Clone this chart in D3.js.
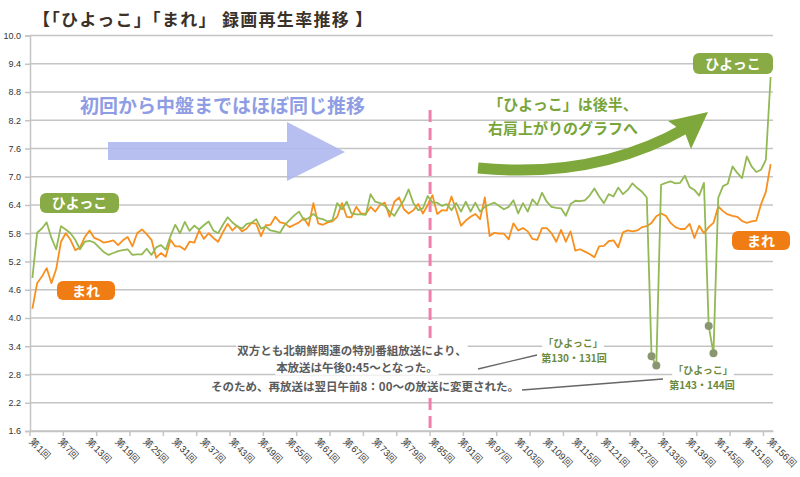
<!DOCTYPE html>
<html><head><meta charset="utf-8">
<script src="https://cdn.jsdelivr.net/npm/d3@7"></script>
<style>
html,body{margin:0;padding:0;background:#fff;}
svg{display:block;font-family:"Noto Sans CJK JP","Noto Sans",sans-serif;}
</style></head>
<body><svg id="chart" width="800" height="477"></svg>
<script>
// ---- data ----
const episodes = d3.range(1, 157);
const labelEpisodes = [1,7,13,19,25,31,37,43,49,55,61,67,73,79,85,91,97,103,109,115,121,127,133,139,145,151,156];
const tickEpisodes = [1,8,15,22,29,36,43,50,57,64,71,78,85,92,99,106,113,120,127,134,141,148,155];
const yTicks = [1.6,2.2,2.8,3.4,4.0,4.6,5.2,5.8,6.4,7.0,7.6,8.2,8.8,9.4,10.0];
const hiyokko = [
4.85,5.81,5.90,6.03,5.70,5.46,5.95,5.88,5.80,5.66,
5.46,5.62,5.64,5.60,5.50,5.40,5.34,5.38,5.42,5.44,
5.46,5.34,5.35,5.35,5.47,5.34,5.50,5.55,5.45,5.74,
5.98,5.80,6.04,5.85,5.96,5.88,5.97,6.05,5.86,5.80,
5.98,6.14,6.03,5.95,5.90,6.00,6.02,6.10,5.90,5.94,
5.86,5.84,5.81,5.98,6.08,6.18,6.26,6.08,6.12,6.21,
6.12,6.10,6.05,6.08,6.44,6.31,6.47,6.22,6.20,6.20,
6.19,6.63,6.47,6.44,6.38,6.26,6.17,6.34,6.50,6.73,
6.44,6.29,6.33,6.59,6.45,6.45,6.38,6.42,6.29,6.44,
6.26,6.47,6.26,6.45,6.26,6.36,6.41,6.45,6.38,6.31,
6.36,6.50,6.22,6.44,6.26,6.52,6.40,6.66,6.47,6.36,
6.34,6.33,6.17,6.42,6.49,6.48,6.50,6.60,6.75,6.58,
6.44,6.63,6.58,6.77,6.63,6.72,6.86,6.76,6.68,6.56,
3.19,2.99,6.83,6.87,6.90,6.86,6.87,7.02,6.78,6.72,
6.60,6.87,3.83,3.25,6.55,6.80,6.85,7.22,7.08,6.97,
7.43,7.22,7.10,7.15,7.36,9.12];
const mare = [
4.20,4.74,4.88,5.06,4.74,5.04,5.62,5.80,5.66,5.44,
5.50,5.72,5.86,5.70,5.66,5.60,5.62,5.65,5.55,5.65,
5.72,5.52,5.80,5.88,5.78,5.66,5.28,5.38,5.30,5.66,
5.52,5.52,5.45,5.62,5.60,5.86,5.68,5.80,5.70,5.62,
5.82,6.00,5.86,5.96,5.84,5.90,6.02,6.00,5.74,5.97,
5.98,6.15,6.03,6.01,5.93,5.98,6.03,6.12,5.96,6.44,
6.01,5.98,6.03,6.05,6.15,6.44,6.15,6.14,6.36,6.22,
6.21,6.36,6.26,6.40,6.45,6.15,6.47,6.56,6.31,6.22,
6.29,6.42,6.22,6.40,6.61,6.21,6.29,6.28,6.58,6.29,
5.96,6.07,6.15,6.21,6.10,6.56,5.74,5.81,5.79,5.79,
5.67,6.01,5.86,5.91,5.84,5.68,5.66,5.91,5.91,5.80,
5.62,5.87,5.62,5.84,5.43,5.46,5.41,5.36,5.29,5.52,
5.53,5.63,5.65,5.50,5.82,5.86,5.84,5.86,5.93,5.95,
6.02,6.16,6.22,6.17,6.02,5.93,5.89,5.89,6.00,5.70,
5.96,5.80,5.93,6.02,6.37,6.27,6.20,6.17,6.15,6.06,
6.02,6.05,6.07,6.42,6.68,7.27];
const dropEpisodes = [131,132,143,144];

// ---- layout ----
const svg = d3.select("#chart");
const L = 30, R = 773, T = 35.5, B = 431;
const x = d3.scaleBand().domain(episodes).range([L, R]).padding(0);
const cx = d => x(d) + x.bandwidth() / 2;
const y = d3.scaleLinear().domain([1.6, 10]).range([B, T]);
const GREEN = "#93b955", ORANGE = "#f7901e";

// title
svg.append("text").attr("x", 33).attr("y", 26)
  .attr("font-size", 17).attr("font-weight", "bold").attr("fill", "#3a3128")
  .attr("letter-spacing", 1.3)
  .text("【「ひよっこ」「まれ」 録画再生率推移 】");

// gridlines
svg.append("g").selectAll("line").data(yTicks).join("line")
  .attr("x1", L).attr("x2", R).attr("y1", d => y(d)).attr("y2", d => y(d))
  .attr("stroke", "#c4c4c4").attr("stroke-width", 1.5);

// y axis
const yAxis = svg.append("g").attr("transform", `translate(${L},0)`)
  .call(d3.axisLeft(y).tickValues(yTicks).tickSize(5).tickPadding(4).tickFormat(d3.format(".1f")));
yAxis.select(".domain").attr("stroke", "#c4c4c4").attr("stroke-width", 1.5);
yAxis.selectAll(".tick line").attr("stroke", "#c4c4c4").attr("stroke-width", 1.5);
yAxis.selectAll("text").attr("font-family", "'Liberation Sans',Arial,sans-serif")
  .attr("font-size", 9).attr("fill", "#333");

// x axis labels
const xAxis = svg.append("g").attr("transform", `translate(0,${B})`)
  .call(d3.axisBottom(x).tickValues(labelEpisodes).tickSize(0).tickFormat(d => `第${d}回`));
xAxis.select(".domain").attr("stroke", "#c4c4c4").attr("stroke-width", 1.5);
xAxis.selectAll("text").attr("font-size", 9.5).attr("fill", "#333")
  .attr("text-anchor", "start").attr("x", 0).attr("y", 0).attr("dy", "0.35em")
  .attr("transform", "translate(-1,9) rotate(45)");
// x tick marks (every 7 categories, on band boundaries)
svg.append("g").selectAll("line").data(tickEpisodes).join("line")
  .attr("x1", d => x(d)).attr("x2", d => x(d)).attr("y1", B).attr("y2", B + 5)
  .attr("stroke", "#c4c4c4").attr("stroke-width", 1.5);

// blue arrow + text
svg.append("path")
  .attr("d", "M108,142 L287,142 L287,122 L345,152 L287,181 L287,160 L108,160 Z")
  .attr("fill", "#aeb8ee").attr("opacity", 0.9);
svg.append("text").attr("x", 80).attr("y", 113).attr("font-size", 19).attr("font-weight", "bold")
  .attr("fill", "#8f9de4").text("初回から中盤まではほぼ同じ推移");

// green curved arrow + text
svg.append("path").attr("d", "M478,168 C560,176 630,160 686,128")
  .attr("fill", "none").attr("stroke", "#7fa83c").attr("stroke-width", 11);
svg.append("path").attr("d", "M668,121 L708,112 L691,149 L685,133 Z").attr("fill", "#7fa83c");
svg.append("text").attr("x", 563).attr("y", 110).attr("text-anchor", "middle")
  .attr("font-size", 15).attr("font-weight", "bold").attr("fill", "#78a53a").text("「ひよっこ」は後半、");
svg.append("text").attr("x", 563).attr("y", 134).attr("text-anchor", "middle")
  .attr("font-size", 15).attr("font-weight", "bold").attr("fill", "#78a53a").text("右肩上がりのグラフへ");

// pink dashed line
svg.append("line").attr("x1", x(85)).attr("x2", x(85)).attr("y1", 110).attr("y2", B)
  .attr("stroke", "#f07fab").attr("stroke-width", 3).attr("stroke-dasharray", "12,6");

// data lines
const line = d3.line().x((d, i) => cx(episodes[i])).y(d => y(d));
svg.append("path").datum(mare).attr("d", line).attr("fill", "none")
  .attr("stroke", ORANGE).attr("stroke-width", 1.8).attr("stroke-linejoin", "round");
svg.append("path").datum(hiyokko).attr("d", line).attr("fill", "none")
  .attr("stroke", GREEN).attr("stroke-width", 1.8).attr("stroke-linejoin", "round");
svg.append("g").selectAll("circle").data(dropEpisodes).join("circle")
  .attr("cx", d => cx(d)).attr("cy", d => y(hiyokko[d - 1])).attr("r", 4)
  .attr("fill", "#8a9672");

// annotation
const ann = svg.append("g");
function noteText(tx, ty, str, opts) {
  const t = ann.append("text").attr("x", tx).attr("y", ty)
    .attr("font-size", opts.size).attr("font-weight", "bold")
    .attr("fill", opts.color).attr("text-anchor", opts.anchor || "start").text(str);
  const bb = t.node().getBBox();
  ann.insert("rect", () => t.node()).attr("x", bb.x - 1).attr("y", ty - opts.size * 0.95)
    .attr("width", bb.width + 2).attr("height", opts.size * 1.2).attr("fill", "#fff");
  return t;
}
ann.append("line").attr("x1", 478).attr("y1", 369).attr("x2", 537).attr("y2", 355).attr("stroke", "#666").attr("stroke-width", 1.3);
ann.append("line").attr("x1", 522).attr("y1", 390).attr("x2", 663).attr("y2", 379).attr("stroke", "#666").attr("stroke-width", 1.3);
noteText(352, 355, "双方とも北朝鮮関連の特別番組放送により、", {size: 11.5, color: "#5b5b5b", anchor: "middle"});
noteText(357, 372, "本放送は午後0:45～となった。", {size: 11.5, color: "#5b5b5b", anchor: "middle"});
noteText(365, 391, "そのため、再放送は翌日午前8：00～の放送に変更された。", {size: 11.5, color: "#5b5b5b", anchor: "middle"});
noteText(573, 347, "「ひよっこ」", {size: 10, color: "#6b8a3c", anchor: "middle"});
noteText(574, 362, "第130・131回", {size: 10, color: "#6b8a3c", anchor: "middle"});
noteText(703, 374, "「ひよっこ」", {size: 10, color: "#6b8a3c", anchor: "middle"});
noteText(702, 389, "第143・144回", {size: 10, color: "#6b8a3c", anchor: "middle"});

// series labels
function tag(bx, by, w, h, fill, str) {
  svg.append("rect").attr("x", bx).attr("y", by).attr("width", w).attr("height", h)
    .attr("rx", 6).attr("fill", fill);
  svg.append("text").attr("x", bx + w / 2).attr("y", by + h / 2).attr("dy", "0.36em")
    .attr("text-anchor", "middle").attr("font-size", 14).attr("font-weight", "bold")
    .attr("fill", "#fff").text(str);
}
tag(40, 193, 79, 20, "#88ab45", "ひよっこ");
tag(57, 281, 58, 19, "#f07d14", "まれ");
tag(732, 231, 58, 19, "#f07d14", "まれ");
tag(693, 53, 80, 21, "#88ab45", "ひよっこ");
</script></body></html>
